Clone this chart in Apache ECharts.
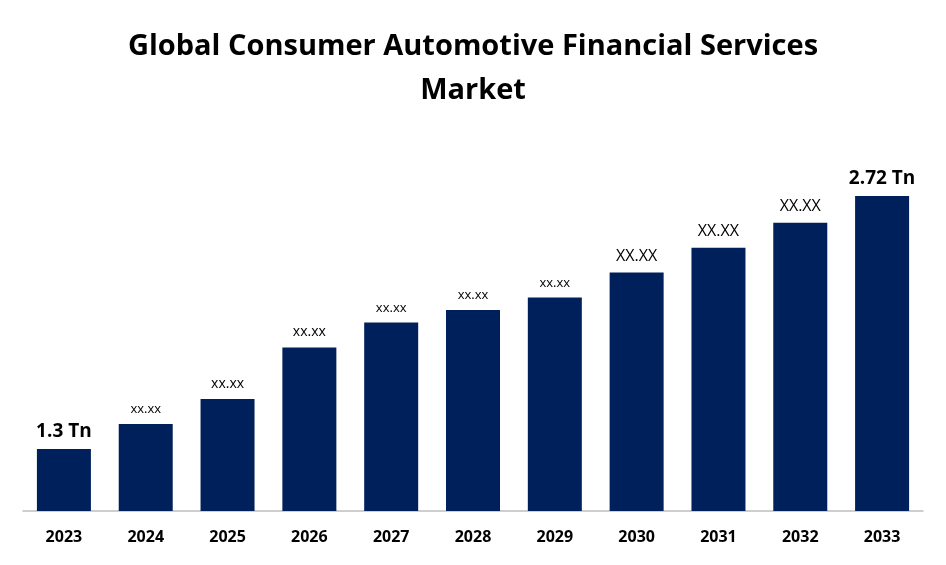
<!DOCTYPE html>
<html>
<head>
<meta charset="utf-8">
<script src="https://cdn.jsdelivr.net/npm/echarts@6/dist/echarts.min.js"></script>
<style>html,body{margin:0;padding:0;background:#fff}#chart{width:946px;height:565px}</style>
</head>
<body>
<div id="chart"></div>
<script>
var years = ['2023','2024','2025','2026','2027','2028','2029','2030','2031','2032','2033'];
var values = [1.3, 1.44, 1.58, 1.87, 2.01, 2.08, 2.15, 2.29, 2.43, 2.57, 2.72];
var labels = ['1.3 Tn','xx.xx','xx.xx','xx.xx','xx.xx','xx.xx','xx.xx','XX.XX','XX.XX','XX.XX','2.72 Tn'];
var labelSizes = [19, 13, 14, 14, 13, 13, 13, 16, 16, 16, 19];

var myChart = echarts.init(document.getElementById('chart'));
var data = [];
for (var i = 0; i < values.length; i++) {
	var big = i == 0 || i == values.length - 1;
	data.push({
		value: values[i],
		label: {
			formatter: labels[i],
			fontSize: labelSizes[i],
			fontWeight: big ? 'bold' : 'normal'
		}
	});
}
var option = {
	animation: false,
	title: {
		text: 'Global Consumer Automotive Financial Services\nMarket',
		left: 'center',
		top: 20,
		textStyle: {fontFamily: 'Open Sans', fontSize: 29, fontWeight: 'bold', color: '#000', lineHeight: 44}
	},
	grid: {left: 23, right: 23, top: 150, bottom: 54},
	xAxis: {
		type: 'category',
		data: years,
		axisTick: {show: false},
		axisLine: {lineStyle: {color: '#bfbfbf', width: 1.5}},
		axisLabel: {fontFamily: 'Open Sans', fontSize: 16, fontWeight: 'bold', color: '#000', margin: 18}
	},
	yAxis: {type: 'value', min: 0.952, max: 2.978, show: false, splitLine: {show: false}},
	series: [{
		type: 'bar',
		data: data,
		barWidth: 54,
		itemStyle: {color: '#00205b'},
		label: {show: true, position: 'top', distance: 8, color: '#000', fontFamily: 'Open Sans'}
	}]
};
myChart.setOption(option);
</script>
</body>
</html>
